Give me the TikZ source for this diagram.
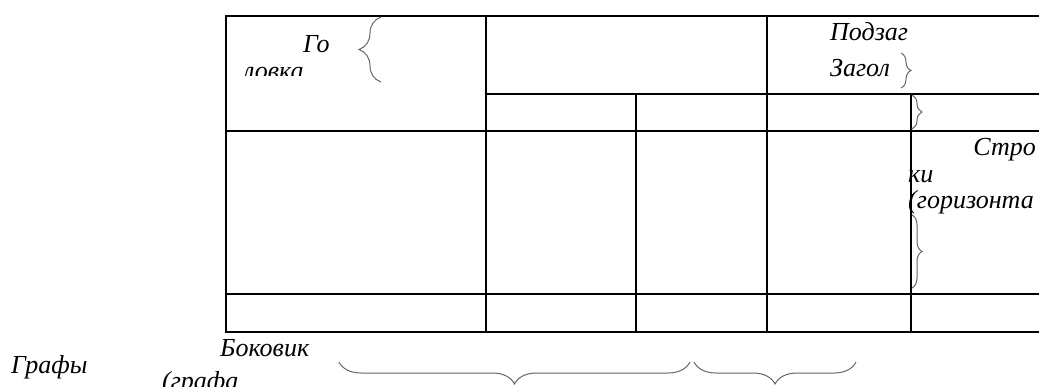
\documentclass[tikz,border=0pt]{standalone}
\usepackage{fontspec}
\setmainfont{Liberation Serif}
\usetikzlibrary{decorations.pathreplacing}
\begin{document}
\begin{tikzpicture}[x=1pt,y=-1pt,
  grid/.style={line width=2.2pt,black},
  br/.style={decorate,draw=black!60,line width=1pt},
  lbl/.style={inner sep=0pt,anchor=base west,font=\fontsize{26}{30}\selectfont\itshape}]
\clip (0,0) rectangle (1039,386);
\useasboundingbox (0,0) rectangle (1039,386);
% table
\draw[grid] (1045,16) -- (226,16) -- (226,332) -- (1045,332);
\draw[grid] (226,131) -- (1045,131);
\draw[grid] (226,294) -- (1045,294);
\draw[grid] (486,94) -- (1045,94);
\draw[grid] (486,16) -- (486,332);
\draw[grid] (767,16) -- (767,332);
\draw[grid] (636,94) -- (636,332);
\draw[grid] (911,94) -- (911,332);
% texts
\node[lbl] (go) at (303,52) {Го};
\begin{scope}
\clip (226,16) rectangle (486,75);
\node[lbl] (lovka) at (243,79) {ловка};
\end{scope}
\node[lbl] (podzag) at (830,40) {Подзаг};
\node[lbl] (zagol) at (830,76) {Загол};
\node[lbl,anchor=base east] (stro) at (1036,155) {Стро};
\node[lbl] (ki) at (908,182) {ки};
\node[lbl] (goriz) at (908,208) {(горизонта};
\node[lbl] (bokovik) at (220,356) {Боковик};
\node[lbl] (grafa) at (162,389) {(графа};
\node[lbl] (grafy) at (11,373) {Графы};
% braces
\coordinate (b1s) at (381,82);
\coordinate (b1e) at (381,17);
\draw[br,decoration={brace,amplitude=22pt}] (b1s) -- (b1e);
\coordinate (b2s) at (901,53);
\coordinate (b2e) at (901,88);
\draw[br,decoration={brace,amplitude=10pt}] (b2s) -- (b2e);
\coordinate (b3s) at (912,95);
\coordinate (b3e) at (912,129);
\draw[br,decoration={brace,amplitude=10pt}] (b3s) -- (b3e);
\coordinate (b4s) at (912,215);
\coordinate (b4e) at (912,288);
\draw[br,decoration={brace,amplitude=10pt}] (b4s) -- (b4e);
\coordinate (b5s) at (690,362);
\coordinate (b5e) at (339,362);
\draw[br,decoration={brace,amplitude=22pt}] (b5s) -- (b5e);
\coordinate (b6s) at (856,362);
\coordinate (b6e) at (694,362);
\draw[br,decoration={brace,amplitude=22pt}] (b6s) -- (b6e);
\end{tikzpicture}
\end{document}
